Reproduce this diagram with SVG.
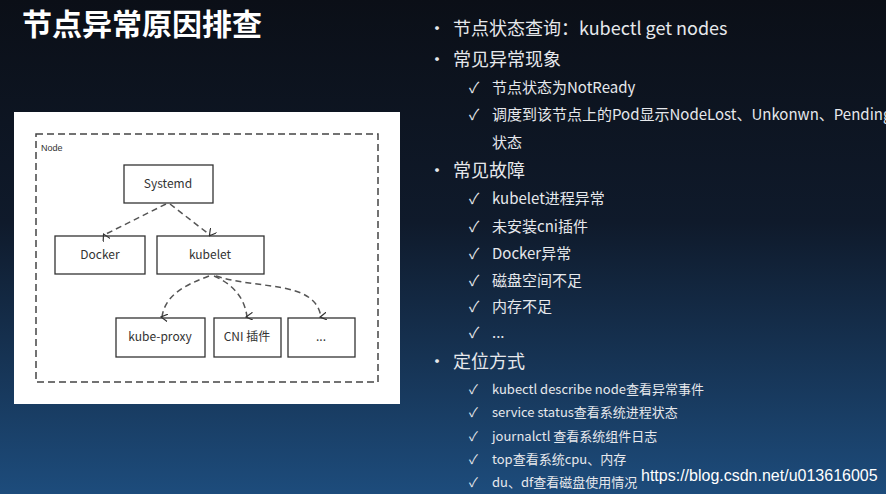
<svg xmlns="http://www.w3.org/2000/svg" width="886" height="494" viewBox="0 0 886 494">
<defs>
<linearGradient id="bg" x1="0" y1="0" x2="0" y2="1">
<stop offset="0" stop-color="#0b0f17"/><stop offset="0.45" stop-color="#0f1a2b"/><stop offset="1" stop-color="#1d4c7c"/>
</linearGradient>
<marker id="ah" markerWidth="8" markerHeight="8" refX="4" refY="6" orient="auto" markerUnits="userSpaceOnUse" viewBox="0 0 8 8"><path d="M0,0 L4,7 L8,0" fill="none" stroke="#333" stroke-width="1.2"/></marker>
<style>
.t{font-family:"Noto Sans CJK SC","Liberation Sans",sans-serif;fill:#e6e8ec}
.h{font-size:18px}.s{font-size:15px}.x{font-size:13px}
.b{fill:#fff;stroke:#333;stroke-width:1.3}
.bl{font-family:"Noto Sans CJK SC","Liberation Sans",sans-serif;font-size:12px;fill:#333;text-anchor:middle}
.c{fill:none;stroke:#555;stroke-width:1.5;stroke-dasharray:6,4;marker-end:url(#ah)}
</style>
</defs>
<rect width="886" height="494" fill="url(#bg)"/>
<text x="22" y="35" class="t" style="font-size:30px;font-weight:bold;fill:#fff">节点异常原因排查</text>
<rect x="14" y="112" width="386" height="292" fill="#fff"/>
<g id="node"><rect x="36" y="134" width="342" height="248" fill="none" stroke="#444" stroke-width="1.5" stroke-dasharray="7,4"/><text x="41" y="151" style="font-family:'Liberation Sans',sans-serif;font-size:9px;fill:#333">Node</text></g>
<g id="systemd"><rect class="b" x="124" y="165" width="89" height="38"/><text class="bl" x="168" y="188">Systemd</text></g>
<g id="docker"><rect class="b" x="55" y="236" width="90" height="38"/><text class="bl" x="100" y="259">Docker</text></g>
<g id="kubelet"><rect class="b" x="157" y="236" width="107" height="38"/><text class="bl" x="210" y="259">kubelet</text></g>
<g id="kube-proxy"><rect class="b" x="116" y="318" width="89" height="39"/><text class="bl" x="160" y="341">kube-proxy</text></g>
<g id="cni"><rect class="b" x="214" y="318" width="67" height="39"/><text class="bl" x="247" y="341">CNI 插件</text></g>
<g id="more"><rect class="b" x="288" y="318" width="67" height="39"/><text class="bl" x="321" y="341">...</text></g>
<g id="connectors">
<path class="c" d="M166,204 L104,235"/>
<path class="c" d="M170,204 L210,235"/>
<path class="c" d="M209,276 C185,285 165,295 162,317"/>
<path class="c" d="M214,276 C235,285 245,300 247,317"/>
<path class="c" d="M216,276 C260,290 315,280 321,317"/>
</g>
<g class="t">
<text x="428" y="35" class="h">•</text><text x="453" y="35" class="h">节点状态查询：kubectl get nodes</text>
<text x="428" y="66" class="h">•</text><text x="453" y="66" class="h">常见异常现象</text>
<text x="469" y="93" class="s">✓</text><text x="492" y="93" class="s">节点状态为NotReady</text>
<text x="469" y="120" class="s">✓</text><text x="492" y="120" class="s">调度到该节点上的Pod显示NodeLost、Unkonwn、Pending</text>
<text x="492" y="148" class="s">状态</text>
<text x="428" y="177" class="h">•</text><text x="453" y="177" class="h">常见故障</text>
<text x="469" y="204" class="s">✓</text><text x="492" y="204" class="s">kubelet进程异常</text>
<text x="469" y="232" class="s">✓</text><text x="492" y="232" class="s">未安装cni插件</text>
<text x="469" y="259" class="s">✓</text><text x="492" y="259" class="s">Docker异常</text>
<text x="469" y="286" class="s">✓</text><text x="492" y="286" class="s">磁盘空间不足</text>
<text x="469" y="312" class="s">✓</text><text x="492" y="312" class="s">内存不足</text>
<text x="469" y="338" class="s">✓</text><text x="492" y="338" class="s">...</text>
<text x="428" y="368" class="h">•</text><text x="453" y="368" class="h">定位方式</text>
<text x="469" y="394" class="x">✓</text><text x="492" y="394" class="x">kubectl describe node查看异常事件</text>
<text x="469" y="417" class="x">✓</text><text x="492" y="417" class="x">service status查看系统进程状态</text>
<text x="469" y="441" class="x">✓</text><text x="492" y="441" class="x">journalctl 查看系统组件日志</text>
<text x="469" y="464" class="x">✓</text><text x="492" y="464" class="x">top查看系统cpu、内存</text>
<text x="469" y="487" class="x">✓</text><text x="492" y="487" class="x">du、df查看磁盘使用情况</text>
</g>
<text x="641" y="481" style="font-family:'Liberation Sans',sans-serif;font-size:16px;fill:#fff">https://blog.csdn.net/u013616005</text>
</svg>
